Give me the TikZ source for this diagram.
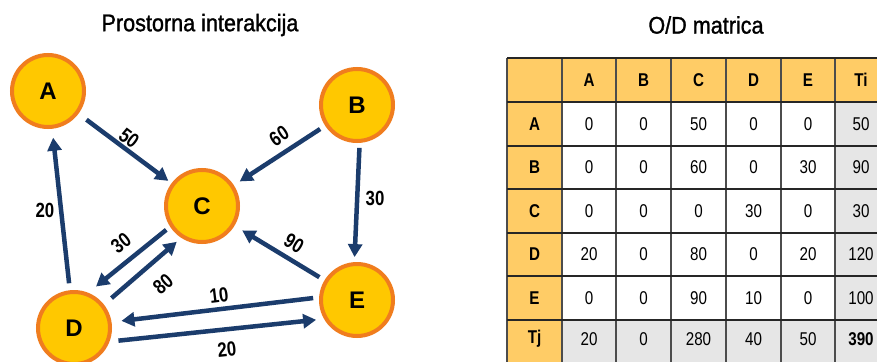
\documentclass[tikz,border=0pt]{standalone}
\usepackage{fontspec}
\setmainfont{Liberation Sans}
\newfontfamily\narrow[FakeStretch=0.82]{Liberation Sans}
\newfontfamily\titlefont[FakeStretch=0.9,FakeBold=1.2]{Liberation Sans}
\usetikzlibrary{arrows.meta}
\definecolor{circfill}{HTML}{FFC800}
\definecolor{circline}{HTML}{F07D1E}
\definecolor{navy}{HTML}{1B3C6C}
\definecolor{hdr}{HTML}{FFCC66}
\definecolor{grey}{HTML}{E6E6E6}
\tikzset{
  place/.style={circle, fill=circfill, draw=circline, line width=4pt, minimum size=72pt, inner sep=0pt,
    font=\fontsize{24}{26}\selectfont\bfseries},
  flow/.style={draw=navy, line width=4.5pt, -{Triangle[length=13pt,width=14pt]}},
  flowlbl/.style={font=\narrow\fontsize{20.5}{22}\selectfont\bfseries, inner sep=0pt},
  ttl/.style={font=\titlefont\fontsize{24}{28}\selectfont, inner sep=0pt},
  cellt/.style={font=\narrow\fontsize{18.5}{20}\selectfont, inner sep=0pt},
  cellh/.style={font=\narrow\fontsize{18.5}{20}\selectfont\bfseries, inner sep=0pt},
  hline/.style={draw=black!85, line width=1.8pt},
  vline/.style={draw=black!70, line width=1.2pt}
}
\begin{document}
\begin{tikzpicture}[x=1pt,y=-1pt]
\clip (0,0) rectangle (877,361);
\fill[white] (0,0) rectangle (877,361);
% titles
\node[ttl] (t1) at (200,25) {Prostorna interakcija};
\node[ttl] (t2) at (706,25) {O/D matrica};
% places
\node[place] (A) at (48,91) {A};
\node[place] (B) at (357,105) {B};
\node[place] (C) at (202,206) {C};
\node[place] (D) at (74,328) {D};
\node[place] (E) at (357,300) {E};
% flows
\draw[flow, shorten <=10pt, shorten >=4pt] (A) -- (C);
\draw[flow, shorten <=6pt, shorten >=7pt] (B) -- (C);
\draw[flow, shorten <=5pt, shorten >=5pt] (B.-86) -- (E.94);
\draw[flow, shorten <=7pt, shorten >=9pt] (D) -- (A);
\draw[flow, shorten <=5pt, shorten >=10pt] (C.213.7) -- (D.68.2);
\draw[flow, shorten <=10pt, shorten >=6pt] (D.38.3) -- (C.237);
\draw[flow, shorten <=6pt, shorten >=9pt] (E) -- (C);
\draw[flow, shorten <=6pt, shorten >=10pt] (E.176) -- (D.9.7);
\draw[flow, shorten <=9pt, shorten >=8pt] (D.-21.1) -- (E.210);
% flow labels
\node[flowlbl, rotate=-37] (lAC) at (129,138) {50};
\node[flowlbl, rotate=33] (lBC) at (279,136) {60};
\node[flowlbl] (lBE) at (375,198) {30};
\node[flowlbl] (lDA) at (45,210) {20};
\node[flowlbl, rotate=38] (lCD) at (121,243) {30};
\node[flowlbl, rotate=40] (lDC) at (163,284) {80};
\node[flowlbl, rotate=-31] (lEC) at (294,243) {90};
\node[flowlbl, rotate=7] (lED) at (219,295) {10};
\node[flowlbl, rotate=6] (lDE) at (227,349) {20};
% table fills
\fill[hdr] (507,58) rectangle (885,102);
\fill[hdr] (507,58) rectangle (562,364);
\fill[grey] (835,102) rectangle (885,364);
\fill[grey] (562,320) rectangle (885,364);
% table lines
\foreach \x in {507,562,616,671,726,781,835} \draw[vline] (\x,58) -- (\x,364);
\foreach \y in {58,102,146,189,233,276,320} \draw[hline] (507,\y) -- (885,\y);
% header texts
\foreach \t [count=\i] in {A,B,C,D,E,Ti} {
  \pgfmathsetmacro{\cx}{{534.5,589,643.5,698.5,753.5,808,861}[\i]}
  \node[cellh] (h\i) at (\cx,80) {\t};
}
\foreach \t [count=\j] in {A,B,C,D,E,Tj} {
  \pgfmathsetmacro{\cy}{{80,124,167.5,211,254.5,298,339}[\j]}
  \node[cellh] (r\j) at (534.5,\cy) {\t};
}
% values
\foreach \row [count=\j] in {{0,0,50,0,0,50},{0,0,60,0,30,90},{0,0,0,30,0,30},{20,0,80,0,20,120},{0,0,90,10,0,100},{20,0,280,40,50,}} {
  \pgfmathsetmacro{\cy}{{80,124,167.5,211,254.5,298,339}[\j]}
  \foreach \v [count=\i] in \row {
    \pgfmathsetmacro{\cx}{{534.5,589,643.5,698.5,753.5,808,861}[\i]}
    \node[cellt] (v\j-\i) at (\cx,\cy) {\v};
  }
}
\node[cellh] (total) at (861,339) {390};
\end{tikzpicture}
\end{document}
